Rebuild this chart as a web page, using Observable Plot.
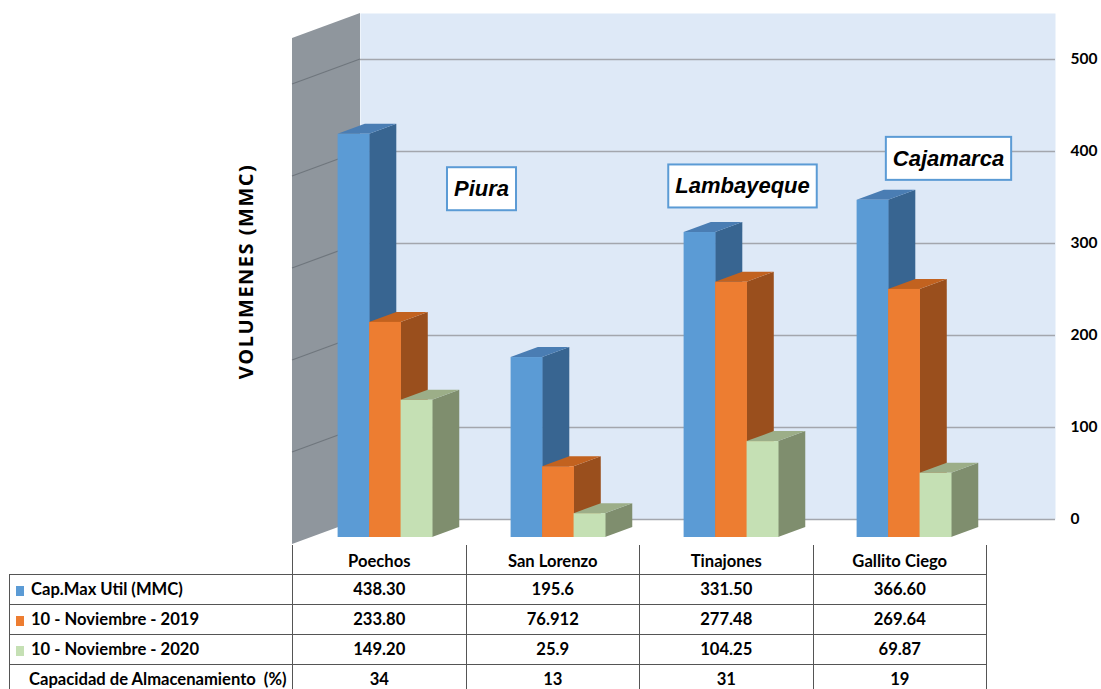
<!DOCTYPE html>
<html><head><meta charset="utf-8">
<script src="https://cdn.jsdelivr.net/npm/d3@7"></script>
<script src="https://cdn.jsdelivr.net/npm/@observablehq/plot@0.6"></script>
<style>
html,body{margin:0;padding:0;background:#fff}
body{width:1101px;height:689px;overflow:hidden;position:relative}
#chart{position:absolute;left:0;top:0}
#tbl{position:absolute;left:9px;top:545px;border-collapse:collapse;table-layout:fixed;
  font-family:Lato,"Open Sans",sans-serif;font-weight:700;font-size:16.6px;color:#000}
#tbl td{padding:0;text-align:center;border:1px solid #555;white-space:nowrap;overflow:hidden}
#tbl td.lab{text-align:left}
#tbl .sw{display:inline-block;width:8px;height:10px;margin:0 7px 0 6px;vertical-align:-1px}
</style></head>
<body>
<div id="chart"></div>
<table id="tbl"></table>
<script>
// ---------- data ----------
const categories = ["Poechos", "San Lorenzo", "Tinajones", "Gallito Ciego"];
const seriesNames = ["Cap.Max Util (MMC)", "10 - Noviembre - 2019", "10 - Noviembre - 2020"];
const capMax  = [438.30, 195.6, 331.50, 366.60];
const nov2019 = [233.80, 76.912, 277.48, 269.64];
const nov2020 = [149.20, 25.9, 104.25, 69.87];
const capMaxText  = ["438.30", "195.6", "331.50", "366.60"];
const nov2019Text = ["233.80", "76.912", "277.48", "269.64"];
const nov2020Text = ["149.20", "25.9", "104.25", "69.87"];
const capacidadLabel = "Capacidad de Almacenamiento  (%)";
const capacidad = [34, 13, 31, 19];
const yTicks = [0, 100, 200, 300, 400, 500];
const yMax = 550;
const yTitle = "VOLUMENES (MMC)";
const regionLabels = ["Piura", "Lambayeque", "Cajamarca"];
const regionCategory = ["Poechos", "Tinajones", "Gallito Ciego"];
const regionY = [359, 362, 392];

// ---------- styles ----------
const seriesValues = [capMax, nov2019, nov2020];
const palette = [
  {front: "#5b9bd5", side: "#386591", top: "#4a7db3"},
  {front: "#ed7d31", side: "#9a4f1d", top: "#c2621f"},
  {front: "#c5e0b4", side: "#7f8e6e", top: "#9cae88"}
];
const DEPTH = {dx: 68, dy: 25};
const regionDx = [33, -52, -19];
const labelFont = "italic bold 22px 'Liberation Sans', Arial, sans-serif";

function leftWall(index, {y}, values, dims) {
  const g = d3.create("svg:g");
  const x0 = dims.marginLeft, yT = y(yMax), yB = y(0);
  const dx = -DEPTH.dx, dy = DEPTH.dy;
  g.append("path")
    .attr("d", `M${x0},${yT}L${x0},${yB}L${x0+dx},${yB+dy}L${x0+dx},${yT+dy}Z`)
    .attr("fill", "#8f969d");
  for (const t of yTicks.slice(1)) {
    g.append("line").attr("x1", x0).attr("y1", y(t)).attr("x2", x0 + dx).attr("y2", y(t) + dy)
      .attr("stroke", "#6f767d").attr("stroke-width", 1.2);
  }
  return g.node();
}

function bars3d(index, {x, y}) {
  const g = d3.create("svg:g");
  const bw = x.bandwidth();
  const w = bw * 0.182, off = bw * 0.142;
  const fx = -DEPTH.dx * 0.72, fy = DEPTH.dy * 0.72;
  const ddx = DEPTH.dx * 0.4, ddy = -DEPTH.dy * 0.4;
  categories.forEach((c, ci) => {
    seriesValues.forEach((vals, si) => {
      const v = vals[ci];
      const x0 = x(c) + off + si * w + fx, x1 = x0 + w;
      const y0 = y(0) + fy, y1 = y(v) + fy;
      const col = palette[si];
      g.append("path").attr("fill", col.side)
        .attr("d", `M${x1},${y0}L${x1+ddx},${y0+ddy}L${x1+ddx},${y1+ddy}L${x1},${y1}Z`);
      g.append("path").attr("fill", col.top)
        .attr("d", `M${x0},${y1}L${x1},${y1}L${x1+ddx},${y1+ddy}L${x0+ddx},${y1+ddy}Z`);
      g.append("rect").attr("fill", col.front)
        .attr("x", x0).attr("y", y1).attr("width", w + 0.4).attr("height", y0 - y1);
    });
  });
  return g.node();
}

const ctx = document.createElement("canvas").getContext("2d");
ctx.font = labelFont;
function regionBoxes(index, {x, y}) {
  const g = d3.create("svg:g");
  const bw = x.bandwidth();
  regionLabels.forEach((lab, i) => {
    const cx = x(regionCategory[i]) + bw / 2 + regionDx[i];
    const cy = y(regionY[i]);
    const tw = ctx.measureText(lab).width;
    const bwid = tw + 14, bh = 43;
    g.append("rect").attr("x", cx - bwid / 2).attr("y", cy - bh / 2)
      .attr("width", bwid).attr("height", bh)
      .attr("fill", "#fff").attr("stroke", "#5b9bd5").attr("stroke-width", 2);
    g.append("text").attr("x", cx).attr("y", cy).attr("text-anchor", "middle")
      .attr("dominant-baseline", "central")
      .attr("font-family", "'Liberation Sans', Arial, sans-serif")
      .attr("font-size", 22).attr("font-weight", "bold").attr("font-style", "italic")
      .attr("fill", "#000").text(lab);
  });
  return g.node();
}

const chart = Plot.plot({
  width: 1101, height: 545,
  marginLeft: 360, marginRight: 46, marginTop: 13, marginBottom: 26,
  style: {background: "transparent", overflow: "visible", fontFamily: "Lato, sans-serif"},
  x: {type: "band", domain: categories, padding: 0, axis: null},
  y: {domain: [0, yMax], axis: "right", ticks: yTicks, tickSize: 0, tickPadding: 15,
      tickFormat: d => String(d), label: null},
  marks: [
    Plot.frame({fill: "#dee9f7"}),
    leftWall,
    Plot.ruleY(yTicks, {stroke: "#a3a6ad", strokeWidth: 1.6}),
    bars3d,
    regionBoxes,
    Plot.text([yTitle], {frameAnchor: "left", rotate: -90, dx: -114, dy: 5, textAnchor: "middle",
      fontSize: 20, fontWeight: "bold", fontFamily: "'Open Sans', sans-serif", fill: "#000"})
  ]
});
d3.select(chart).selectAll("g[aria-label='y-axis tick label'], g[aria-label='y-axis']")
  .attr("font-size", 15.5).attr("font-weight", "bold").attr("fill", "#000");
d3.select(chart).selectAll("g[aria-label='text'] text").style("letter-spacing", "1.5px");
document.getElementById("chart").appendChild(chart);

// ---------- table ----------
const tbl = d3.select("#tbl");
const cg = tbl.append("colgroup");
cg.append("col").style("width", "283px");
categories.forEach(() => cg.append("col").style("width", "173.5px"));
const hr = tbl.append("tr").style("height", "29px");
hr.append("td").style("border", "none");
categories.forEach(c => hr.append("td").style("border-top", "none").style("padding-top", "4px").text(c));
const rows = [
  {label: seriesNames[0], color: palette[0].front, vals: capMaxText},
  {label: seriesNames[1], color: palette[1].front, vals: nov2019Text},
  {label: seriesNames[2], color: palette[2].front, vals: nov2020Text},
  {label: capacidadLabel, color: null, vals: capacidad.map(String)}
];
rows.forEach(r => {
  const tr = tbl.append("tr").style("height", "30px");
  const td = tr.append("td").attr("class", "lab");
  if (r.color) {
    td.append("span").attr("class", "sw").style("background", r.color);
    td.append("span").text(r.label);
  } else {
    td.append("span").style("padding-left", "19px").style("white-space", "pre").text(r.label);
  }
  r.vals.forEach(v => tr.append("td").text(v));
});
</script>
</body></html>
